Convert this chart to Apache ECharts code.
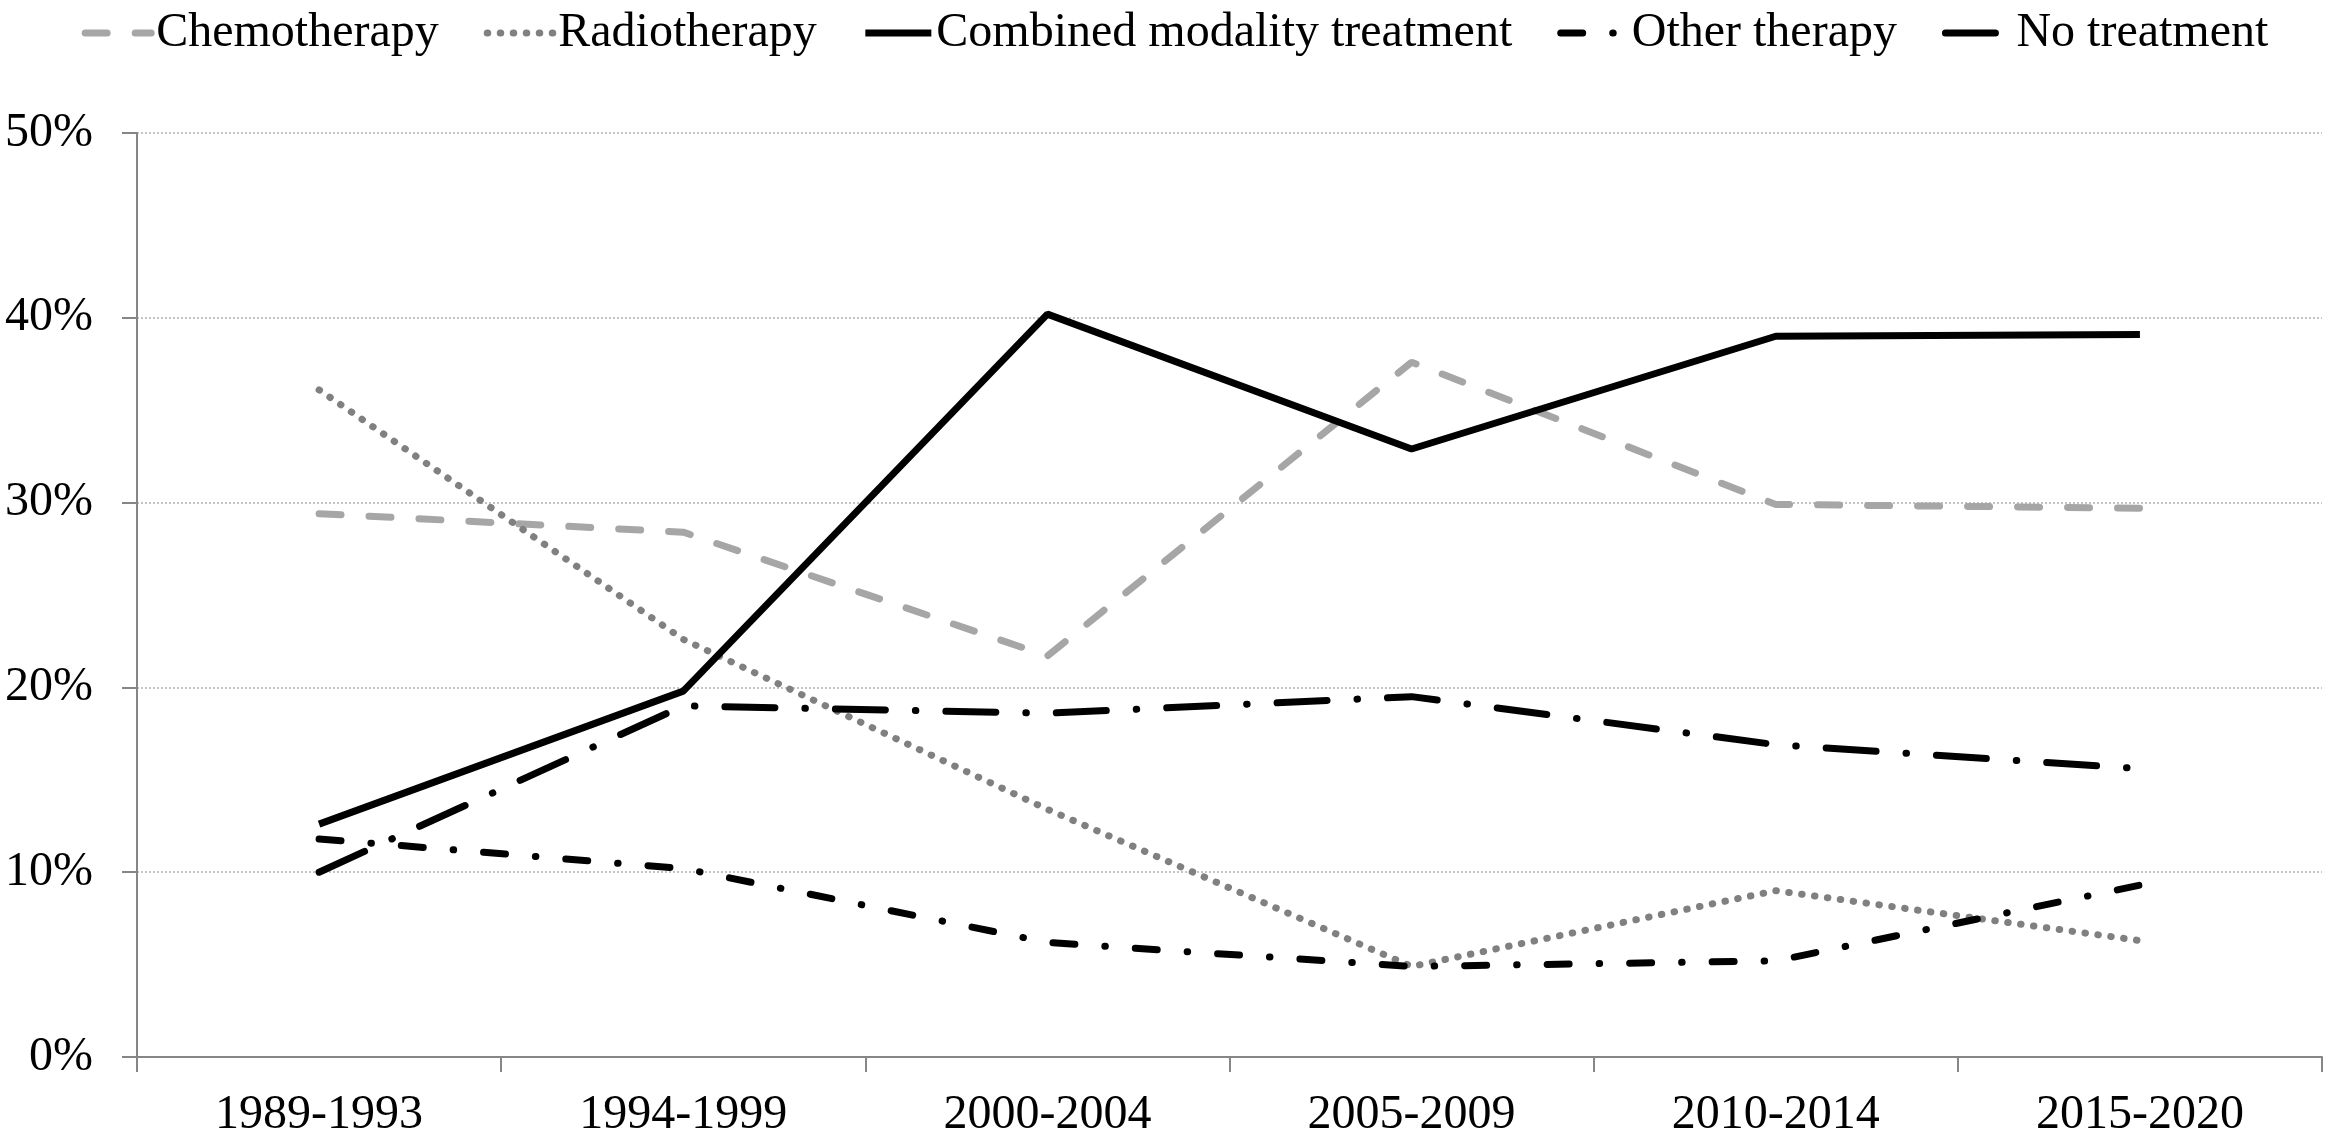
<!DOCTYPE html>
<html>
<head>
<meta charset="utf-8">
<script src="https://cdn.jsdelivr.net/npm/echarts@6/dist/echarts.min.js"></script>
<style>
html,body{margin:0;padding:0;background:#fff;}
#chart{width:2350px;height:1143px;}
</style>
</head>
<body>
<div id="chart"></div>
<script>
const categories = ['1989-1993','1994-1999','2000-2004','2005-2009','2010-2014','2015-2020'];
const chemotherapy = [29.4, 28.4, 21.7, 37.6, 29.9, 29.7];
const radiotherapy = [36.1, 22.6, 13.4, 4.9, 9.0, 6.3];
const combinedModality = [12.6, 19.8, 40.2, 32.9, 39.0, 39.1];
const otherTherapy = [11.8, 10.2, 6.2, 4.9, 5.2, 9.3];
const noTreatment = [10.0, 19.0, 18.6, 19.5, 16.9, 15.6];
const yTicks = [0, 10, 20, 30, 40, 50];

const FONT = 'Liberation Serif';
const chart = echarts.init(document.getElementById('chart'));

function line(name, data, style) {
  return {
    name: name,
    type: 'line',
    data: data,
    symbol: 'none',
    silent: true,
    animation: false,
    color: style.color,
    itemStyle: { color: style.color },
    lineStyle: style,
    z: 3
  };
}

const styles = {
  chemo: { color: '#a6a6a6', width: 7, type: [22, 28], cap: 'round' },
  radio: { color: '#808080', width: 7, type: [0.5, 12.5], cap: 'round' },
  combined: { color: '#000000', width: 7, type: 'solid', cap: 'butt' },
  other: { color: '#000000', width: 7, type: [22, 30, 0.5, 30], cap: 'round' },
  none: { color: '#000000', width: 7, type: [50, 30, 0.5, 30], cap: 'round' }
};

function legendItem(name, st) {
  return {
    name: name,
    itemStyle: { color: 'rgba(0,0,0,0)', borderWidth: 0, opacity: 0 },
    lineStyle: { color: st.color, width: st.width, type: st.type, cap: st.cap }
  };
}

chart.setOption({
  animation: false,
  backgroundColor: '#ffffff',
  textStyle: { fontFamily: FONT },
  legend: {
    top: 4,
    left: 'center',
    itemWidth: 66,
    itemHeight: 14,
    itemGap: 45,
    textStyle: { fontFamily: FONT, fontSize: 48, color: '#000' },
    data: [
      legendItem('Chemotherapy', styles.chemo),
      legendItem('Radiotherapy', styles.radio),
      legendItem('Combined modality treatment', styles.combined),
      legendItem('Other therapy', styles.other),
      legendItem('No treatment', styles.none)
    ]
  },
  grid: { left: 137, right: 28, top: 133, bottom: 86 },
  xAxis: {
    type: 'category',
    data: categories,
    boundaryGap: true,
    axisLine: { lineStyle: { color: '#868686', width: 2 } },
    axisTick: { show: true, length: 15, lineStyle: { color: '#868686', width: 2 } },
    axisLabel: { fontFamily: FONT, fontSize: 48, color: '#000', margin: 34 },
    splitLine: { show: false }
  },
  yAxis: {
    type: 'value',
    min: yTicks[0],
    max: yTicks[yTicks.length - 1],
    interval: 10,
    axisLine: { show: true, lineStyle: { color: '#868686', width: 2 } },
    axisTick: { show: true, length: 15, lineStyle: { color: '#868686', width: 2 } },
    axisLabel: { fontFamily: FONT, fontSize: 48, color: '#000', margin: 44, formatter: '{value}%' },
    splitLine: { show: true, lineStyle: { color: '#b0b0b0', width: 1.5, type: [2, 2] } }
  },
  series: [
    line('Chemotherapy', chemotherapy, styles.chemo),
    line('Radiotherapy', radiotherapy, styles.radio),
    line('Combined modality treatment', combinedModality, styles.combined),
    line('Other therapy', otherTherapy, styles.other),
    line('No treatment', noTreatment, styles.none)
  ]
});
</script>
</body>
</html>
